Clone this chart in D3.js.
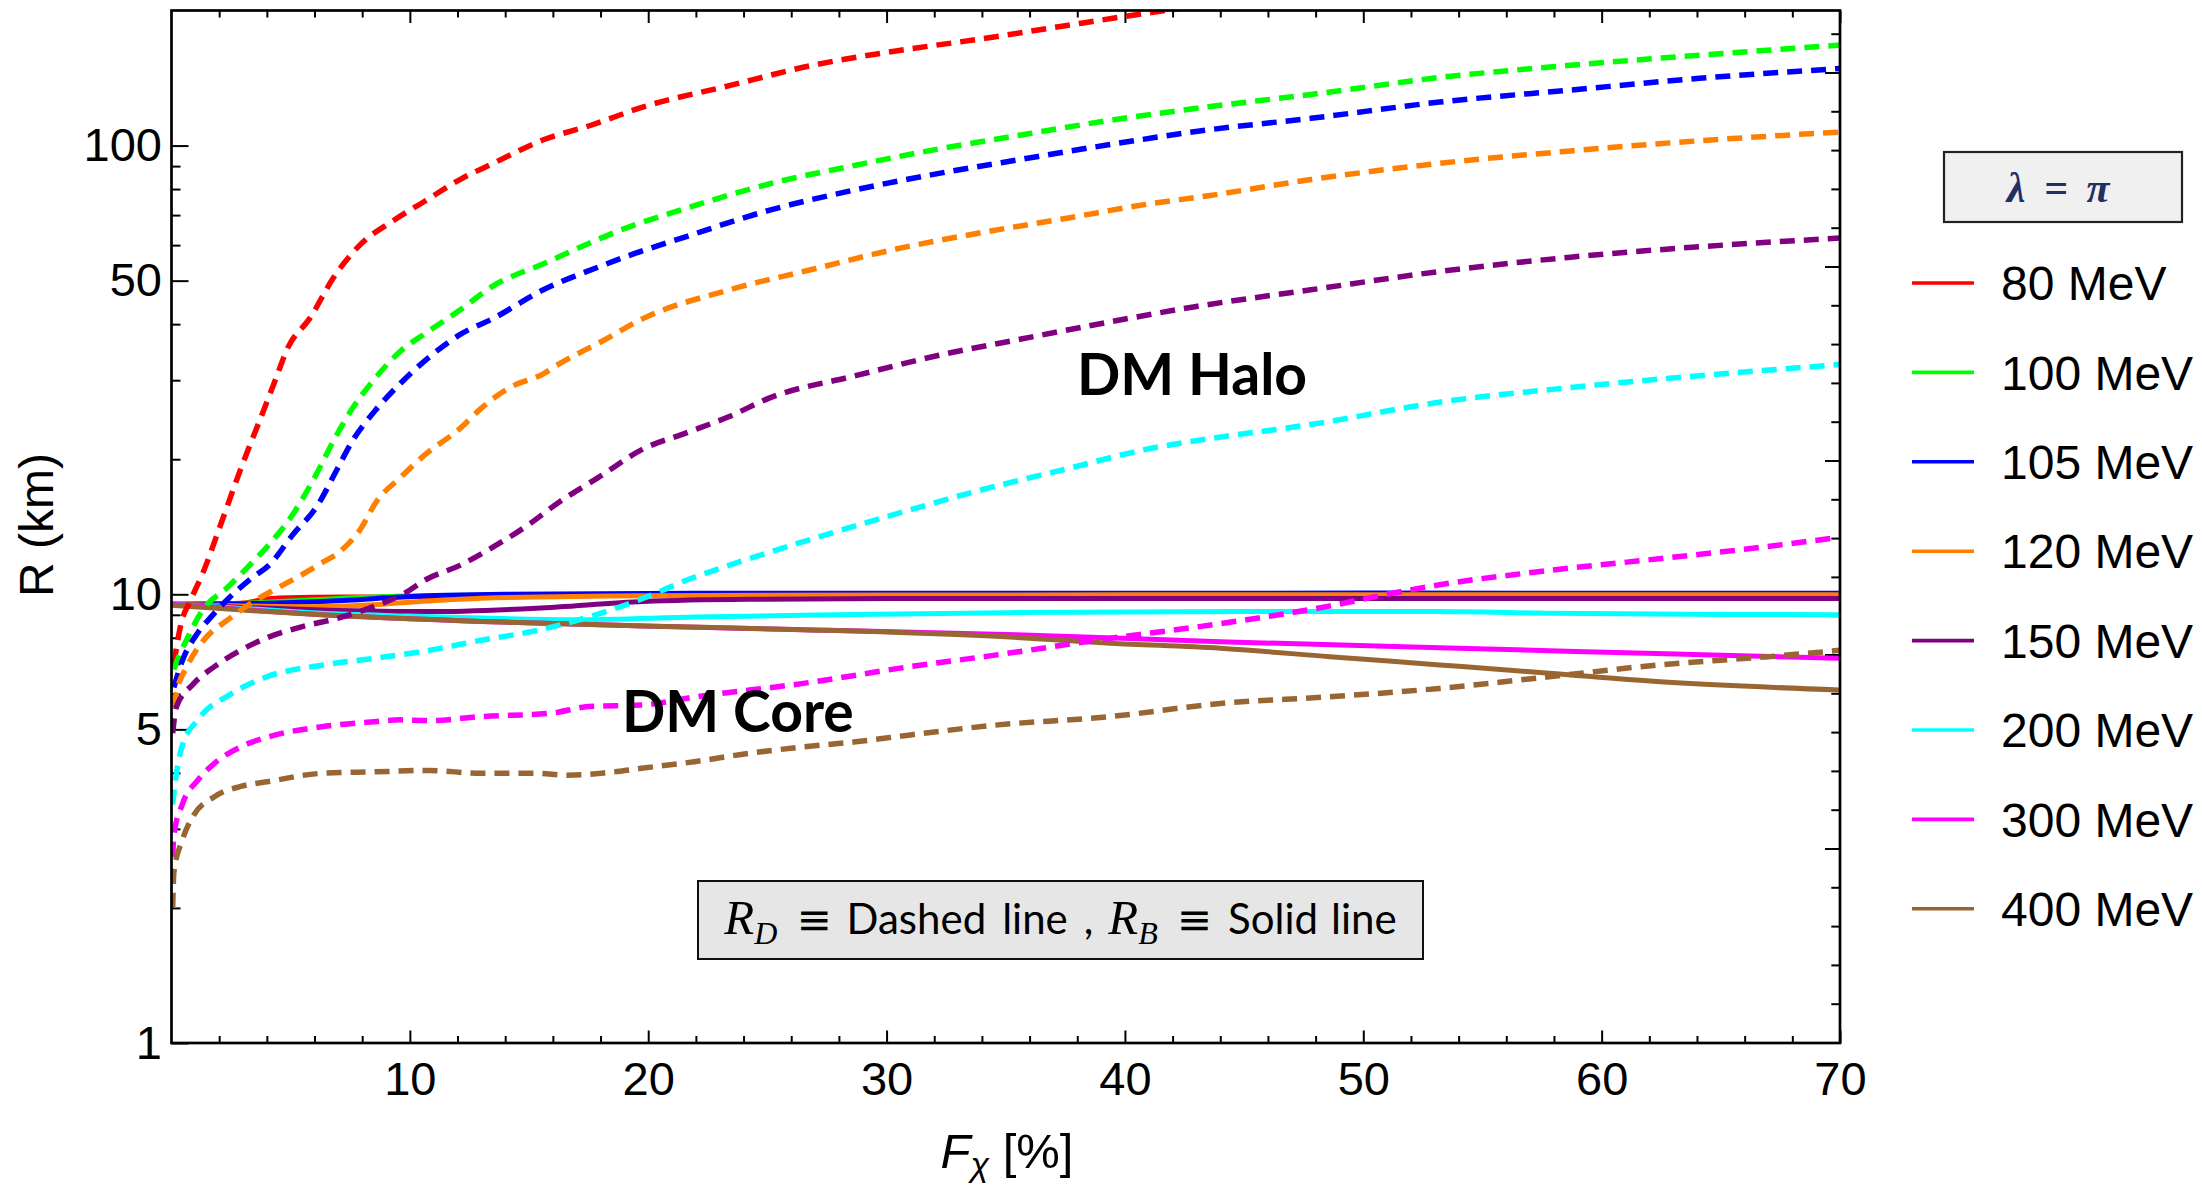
<!DOCTYPE html>
<html>
<head>
<meta charset="utf-8">
<script src="https://cdn.jsdelivr.net/npm/d3@7"></script>
<style>
  html, body { margin: 0; padding: 0; background: #ffffff; }
  svg { display: block; }
</style>
</head>
<body>
<svg id="chart" width="2202" height="1186"></svg>
<script>
// Dark-matter admixed star radii vs. DM fraction, lambda = pi.
// Each series: [F_chi (%), R (km)] pairs.

const massLabels = ["80 MeV", "100 MeV", "105 MeV", "120 MeV", "150 MeV", "200 MeV", "300 MeV", "400 MeV"];
const massColors = ["#ff0000", "#00ff00", "#0000ff", "#ff8000", "#800080", "#00ffff", "#ff00ff", "#996633"];

// R_D : dark-matter radius (dashed)
const rd80 = [[0.1,7.0],[0.4,8.6],[0.8,9.7],[1.3,11.1],[2.0,14.0],[2.9,19.0],[3.7,24.4],[4.3,29.5],[4.9,35.6],[5.8,41.2],[6.8,50.8],[7.9,60],[9.3,68],[10.7,75.6],[12.1,84],[13.5,91.3],[15.6,103],[17.6,111],[19.8,122],[23.4,136],[26.9,151],[30.4,162.5],[34.0,173],[37.5,185],[40.0,194],[42.0,201],[44.0,208]];
const rd100 = [[0.1,6.8],[0.3,7.25],[0.7,8.05],[1.35,9.3],[2.3,10.3],[3.2,11.5],[4.15,13.0],[5.1,15.1],[6.0,18.2],[6.8,22],[7.6,26],[8.5,30.1],[9.6,34.8],[10.7,38.3],[12.1,43],[13.5,48.7],[15.6,54.5],[17.8,61.5],[19.0,65.3],[21.6,72.5],[25.1,82.2],[28.7,90.4],[32.2,98.3],[35.7,105.7],[39.3,113.7],[43.5,122],[47.8,130],[53.2,141.8],[58.7,151],[64.1,159],[70,167.5]];
const rd105 = [[0.1,6.2],[0.45,7.1],[1.1,8.2],[1.7,8.95],[2.4,9.8],[3.3,10.8],[4.15,11.7],[5.1,13.6],[6.1,15.7],[6.95,19.0],[7.6,22],[8.5,25.5],[9.6,29.5],[10.7,33.4],[12.1,37.9],[13.5,41.2],[15.6,47.7],[17.9,53.6],[19.0,56.4],[21.6,62.7],[25.1,71.8],[28.7,79.7],[32.2,86.7],[35.7,93.3],[39.3,100.4],[43.5,108.4],[47.8,115],[53.2,125],[58.7,133],[64.1,141.2],[70,148.5]];
const rd120 = [[0.1,5.6],[0.2,6.0],[0.65,6.9],[1.35,7.9],[2.4,8.8],[3.4,9.6],[4.4,10.3],[5.4,11.0],[6.25,11.7],[7.1,12.5],[7.9,13.9],[8.6,16.1],[9.6,18.2],[10.7,20.6],[12.1,23.4],[13.0,26],[14.2,28.9],[15.6,31],[16.3,32.7],[18.0,36.5],[19.8,41.2],[23.4,47.7],[26.9,53],[30.4,58.8],[34.0,64],[37.5,68.8],[41.0,74.1],[43.5,77.3],[47.8,84],[53.2,91.3],[58.7,97.3],[64.1,102.5],[70,107.2]];
const rd150 = [[0.05,4.9],[0.2,5.6],[0.9,6.3],[1.8,6.9],[2.9,7.5],[4.0,8.0],[5.6,8.5],[7.0,8.85],[8.5,9.4],[9.7,10.0],[10.7,10.8],[12.1,11.6],[13.5,12.75],[14.9,14.2],[16.3,16.1],[17.9,18.2],[19.8,21.1],[21.6,22.9],[23.4,24.9],[25.1,27.4],[28.7,30.7],[32.2,34.1],[35.7,37.1],[39.3,40.4],[43.0,43.8],[47.8,47.7],[53.2,52.4],[58.7,56.4],[64.1,59.5],[70,62.2]];
const rd200 = [[0.05,3.4],[0.1,3.6],[0.45,4.6],[1.1,5.25],[2.5,6.0],[4.0,6.55],[6.3,6.95],[8.5,7.2],[10.8,7.5],[13.0,7.9],[15.3,8.3],[17.5,8.9],[19.8,9.8],[21.7,10.8],[23.6,11.7],[26.9,13.3],[30.4,15.1],[34.0,17.1],[37.5,19.0],[41.0,21.1],[43.0,22.0],[47.8,23.9],[53.2,26.8],[58.7,28.9],[64.1,30.7],[70,32.5]];
const rd300 = [[0.05,2.6],[0.1,2.9],[0.45,3.4],[1.1,3.85],[1.8,4.2],[2.9,4.57],[4.0,4.8],[6.3,5.07],[8.5,5.2],[9.6,5.25],[10.8,5.23],[13.0,5.34],[15.9,5.43],[17.5,5.62],[19.8,5.67],[22.0,5.91],[26.5,6.33],[31.0,6.9],[34.4,7.3],[39.4,7.98],[44.0,8.6],[48.5,9.4],[51.0,10.0],[53.2,10.5],[57.8,11.3],[62.4,12.0],[66.0,12.6],[70,13.4]];
const rd400 = [[0.05,2.0],[0.1,2.4],[0.45,2.83],[0.9,3.2],[1.8,3.54],[2.9,3.73],[4.0,3.82],[6.3,3.99],[8.5,4.02],[10.8,4.05],[13.0,3.99],[15.3,3.99],[16.6,3.95],[18.2,4.0],[19.8,4.1],[22.0,4.24],[24.2,4.42],[26.5,4.57],[28.7,4.69],[31.0,4.86],[34.4,5.1],[39.4,5.34],[44.0,5.71],[48.6,5.91],[53.2,6.17],[57.8,6.55],[62.4,6.96],[67.0,7.26],[70,7.5]];

// R_B : baryonic radius (solid)
const rb80 = [[0,9.5],[2.9,9.55],[4.1,9.78],[5.9,9.85],[8.6,9.86],[13,9.9],[20,9.95],[30,9.97],[40,10.0],[50,10.0],[60,10.0],[70,10.0]];
const rb100 = [[0,9.5],[2,9.5],[4,9.6],[8.5,9.86],[13,9.96],[20,10.0],[30,10.02],[40,10.02],[50,10.03],[60,10.03],[70,10.03]];
const rb105 = [[0,9.5],[4,9.55],[7.4,9.7],[9.6,9.86],[14,10.0],[22,10.05],[30,10.05],[40,10.05],[50,10.06],[60,10.05],[70,10.05]];
const rb120 = [[0,9.5],[3,9.42],[6,9.38],[8,9.45],[10,9.6],[13,9.8],[20,9.93],[30,9.96],[40,9.97],[50,9.98],[60,9.98],[70,9.98]];
const rb150 = [[0,9.5],[3,9.35],[6.3,9.23],[10.8,9.15],[15.3,9.31],[19.8,9.64],[24.2,9.75],[30,9.78],[40,9.78],[50,9.78],[60,9.78],[70,9.78]];
const rb200 = [[0,9.5],[3,9.3],[6.3,9.07],[10,8.94],[13,8.85],[17,8.78],[22,8.9],[27,8.99],[35,9.1],[45,9.15],[53,9.15],[58,9.07],[65,9.02],[70,9.0]];
const rb300 = [[0,9.5],[3,9.25],[6.3,9.0],[13,8.7],[19.8,8.5],[26.5,8.34],[35,8.14],[44,7.84],[53.2,7.6],[62.3,7.38],[70,7.2]];
const rb400 = [[0,9.45],[3,9.22],[6.3,9.0],[13,8.7],[19.8,8.5],[26.5,8.34],[34.8,8.05],[39.4,7.78],[44,7.58],[48.6,7.26],[53.2,6.96],[57.8,6.67],[62.3,6.39],[70,6.12]];

// Axis ticks
const xMajorTicks = [10, 20, 30, 40, 50, 60, 70];
const xMinorTicks = [2,4,6,8,12,14,16,18,22,24,26,28,32,34,36,38,42,44,46,48,52,54,56,58,62,64,66,68];
const yMajorTicks = [1, 5, 10, 50, 100];
const yMinorTicks = [2,3,4,6,7,8,9,20,30,40,60,70,80,90];

const rdSeries = [rd80, rd100, rd105, rd120, rd150, rd200, rd300, rd400];
const rbSeries = [rb80, rb100, rb105, rb120, rb150, rb200, rb300, rb400];

const svg = d3.select("#chart");
const plot = { left: 171.5, right: 1840, top: 10.5, bottom: 1043 };

const x = d3.scaleLinear().domain([0, 70]).range([plot.left, plot.right]);
const y = d3.scaleLog().domain([1, 200]).range([plot.bottom, plot.top]);

svg.append("rect").attr("width", 2202).attr("height", 1186).attr("fill", "#ffffff");

svg.append("defs").append("clipPath").attr("id", "plotClip")
  .append("rect")
  .attr("x", plot.left).attr("y", plot.top)
  .attr("width", plot.right - plot.left).attr("height", plot.bottom - plot.top);

const tickFont = "'Liberation Sans', Arial, sans-serif";

// ---- axes (ticks point inward, Mathematica-style frame) ----
function styleAxis(g) {
  g.select(".domain").remove();
  g.selectAll(".tick line").attr("stroke", "#000").attr("stroke-width", 2);
  g.selectAll(".tick text").attr("fill", "#000").attr("font-family", tickFont).attr("font-size", 47);
}

svg.append("g").attr("transform", `translate(0,${plot.bottom})`)
  .call(d3.axisBottom(x).tickValues(xMajorTicks).tickSize(-12.5).tickPadding(19).tickFormat(d3.format("d")))
  .call(styleAxis);
svg.append("g").attr("transform", `translate(0,${plot.bottom})`)
  .call(d3.axisBottom(x).tickValues(xMinorTicks).tickSize(-7).tickFormat(""))
  .call(styleAxis);
svg.append("g").attr("transform", `translate(0,${plot.top})`)
  .call(d3.axisTop(x).tickValues(xMajorTicks).tickSize(-12.5).tickFormat(""))
  .call(styleAxis);
svg.append("g").attr("transform", `translate(0,${plot.top})`)
  .call(d3.axisTop(x).tickValues(xMinorTicks).tickSize(-7).tickFormat(""))
  .call(styleAxis);

svg.append("g").attr("transform", `translate(${plot.left},0)`)
  .call(d3.axisLeft(y).tickValues(yMajorTicks).tickSize(-17).tickPadding(9.5).tickFormat(d3.format("d")))
  .call(styleAxis);
svg.append("g").attr("transform", `translate(${plot.left},0)`)
  .call(d3.axisLeft(y).tickValues(yMinorTicks).tickSize(-9).tickFormat(""))
  .call(styleAxis);

// right frame: evenly spaced ticks
const rightTickStep = 38.8;
const rightTicks = d3.range(1, 27).map(k => ({ k, py: plot.bottom - k * rightTickStep }))
  .filter(t => t.py > plot.top + 4);
svg.append("g").selectAll("line").data(rightTicks).join("line")
  .attr("x1", plot.right).attr("x2", t => plot.right - (t.k % 5 === 0 ? 15 : 8.7))
  .attr("y1", t => t.py).attr("y2", t => t.py)
  .attr("stroke", "#000").attr("stroke-width", 2);

// ---- curves ----
const line = d3.line()
  .x(d => x(d[0]))
  .y(d => y(d[1]))
  .curve(d3.curveMonotoneX);

const curves = svg.append("g").attr("clip-path", "url(#plotClip)");

curves.selectAll("path.rb").data(rbSeries).join("path")
  .attr("class", "rb")
  .attr("d", line)
  .attr("fill", "none")
  .attr("stroke", (d, i) => massColors[i])
  .attr("stroke-width", 5)
  .attr("stroke-linejoin", "round");

curves.selectAll("path.rd").data(rdSeries).join("path")
  .attr("class", "rd")
  .attr("d", line)
  .attr("fill", "none")
  .attr("stroke", (d, i) => massColors[i])
  .attr("stroke-width", 5.5)
  .attr("stroke-dasharray", "15,9");

// ---- frame ----
svg.append("rect")
  .attr("x", plot.left).attr("y", plot.top)
  .attr("width", plot.right - plot.left).attr("height", plot.bottom - plot.top)
  .attr("fill", "none").attr("stroke", "#000").attr("stroke-width", 2.7);

// ---- axis titles ----
const xTitle = svg.append("text")
  .attr("x", 1007).attr("y", 1168)
  .attr("text-anchor", "middle")
  .attr("font-family", tickFont).attr("font-size", 49).attr("fill", "#000");
xTitle.append("tspan").attr("font-style", "italic").text("F");
xTitle.append("tspan").attr("font-style", "italic").attr("font-size", 34).attr("dy", 8).text("χ");
xTitle.append("tspan").attr("dy", -8).text(" [%]");

svg.append("text")
  .attr("transform", "translate(53,525) rotate(-90)")
  .attr("text-anchor", "middle")
  .attr("font-family", tickFont).attr("font-size", 48).attr("fill", "#000")
  .text("R (km)");

// ---- region labels ----
const boldFont = "Lato, 'Open Sans', sans-serif";
svg.append("text").attr("x", 1077).attr("y", 395)
  .attr("font-family", boldFont).attr("font-weight", 700).attr("font-size", 57)
  .attr("fill", "#000").text("DM Halo");
svg.append("text").attr("x", 622).attr("y", 732)
  .attr("font-family", boldFont).attr("font-weight", 700).attr("font-size", 57)
  .attr("fill", "#000").text("DM Core");

// ---- annotation box ----
svg.append("rect")
  .attr("x", 698).attr("y", 881).attr("width", 725).attr("height", 78)
  .attr("fill", "#e6e6e6").attr("stroke", "#111").attr("stroke-width", 2);

const serifIt = "'Liberation Serif', 'DejaVu Serif', serif";
const noteFont = "Lato, 'Open Sans', sans-serif";
const eqFont = "'DejaVu Sans', sans-serif";
const noteBase = 934;
// pieces laid out left to right; gap = space before the piece
const notePieces = [
  { t: "R", font: serifIt, size: 49, italic: true, dy: 0, gap: 0 },
  { t: "D", font: serifIt, size: 32, italic: true, dy: 10, gap: 0 },
  { t: "≡", font: eqFont, size: 42, italic: false, dy: 0, gap: 19 },
  { t: "Dashed", font: noteFont, size: 42, italic: false, dy: 0, gap: 15 },
  { t: "line", font: noteFont, size: 42, italic: false, dy: 0, gap: 16 },
  { t: ",", font: noteFont, size: 42, italic: false, dy: 0, gap: 16 },
  { t: "R", font: serifIt, size: 49, italic: true, dy: 0, gap: 15 },
  { t: "B", font: serifIt, size: 32, italic: true, dy: 10, gap: 0 },
  { t: "≡", font: eqFont, size: 42, italic: false, dy: 0, gap: 19 },
  { t: "Solid", font: noteFont, size: 42, italic: false, dy: 0, gap: 16 },
  { t: "line", font: noteFont, size: 42, italic: false, dy: 0, gap: 13 }
];
const noteG = svg.append("g");
const noteTexts = noteG.selectAll("text").data(notePieces).join("text")
  .attr("y", d => noteBase + d.dy)
  .attr("font-family", d => d.font).attr("font-size", d => d.size)
  .attr("font-style", d => d.italic ? "italic" : "normal")
  .attr("fill", "#000")
  .text(d => d.t);
let cursor = 0;
noteTexts.each(function (d) {
  cursor += d.gap;
  d.offset = cursor;
  cursor += this.getComputedTextLength();
});
const noteStart = 1060.5 - cursor / 2;
noteTexts.attr("x", d => noteStart + d.offset);

// ---- legend ----
svg.append("rect")
  .attr("x", 1944).attr("y", 152).attr("width", 238).attr("height", 70)
  .attr("fill", "#f0f0f0").attr("stroke", "#222").attr("stroke-width", 2.2);
const titlePieces = [
  { t: "λ", cx: 2016 },
  { t: "=", cx: 2056 },
  { t: "π", cx: 2098 }
];
svg.append("g").selectAll("text").data(titlePieces).join("text")
  .attr("x", d => d.cx).attr("y", 202).attr("text-anchor", "middle")
  .attr("font-family", serifIt).attr("font-style", "italic").attr("font-weight", 700)
  .attr("font-size", 42).attr("fill", "#1f3064")
  .text(d => d.t);

const legendY = d3.scaleLinear().domain([0, 1]).range([283, 283 + 89.4]);
const legend = svg.append("g").selectAll("g").data(massLabels).join("g")
  .attr("transform", (d, i) => `translate(0,${legendY(i)})`);
legend.append("line")
  .attr("x1", 1912).attr("x2", 1974).attr("y1", 0).attr("y2", 0)
  .attr("stroke", (d, i) => massColors[i]).attr("stroke-width", 3.6);
legend.append("text")
  .attr("x", 2001).attr("y", 0).attr("dy", "0.36em")
  .attr("font-family", tickFont).attr("font-size", 48).attr("fill", "#000")
  .text(d => d);
</script>
</body>
</html>
